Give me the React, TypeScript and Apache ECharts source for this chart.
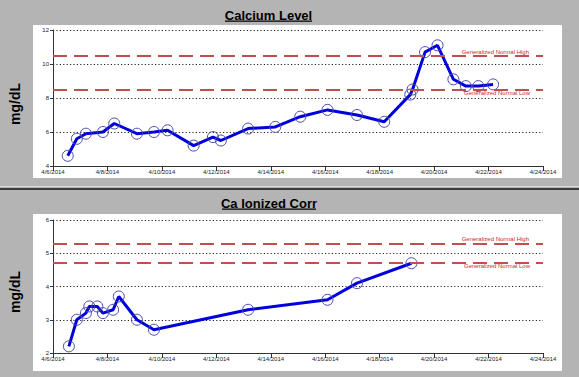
import React, { useEffect, useRef } from "react";
import * as echarts from "echarts";

const calciumTimes = [
  "2014-04-06T13:00", "2014-04-06T21:00", "2014-04-07T05:00", "2014-04-07T20:00",
  "2014-04-08T06:00", "2014-04-09T02:00", "2014-04-09T17:00", "2014-04-10T05:00",
  "2014-04-11T04:00", "2014-04-11T21:00", "2014-04-12T04:00", "2014-04-13T04:00",
  "2014-04-14T04:00", "2014-04-15T02:00", "2014-04-16T02:00", "2014-04-17T04:00",
  "2014-04-18T04:00", "2014-04-19T03:00", "2014-04-19T05:00", "2014-04-19T16:00",
  "2014-04-20T03:00", "2014-04-20T17:00", "2014-04-21T04:00", "2014-04-21T15:00",
  "2014-04-22T04:00",
];
const calciumValues = [
  4.6, 5.6, 5.9, 6.0, 6.5, 5.9, 6.0, 6.1, 5.2, 5.7, 5.5, 6.2, 6.3, 6.9, 7.3, 7.0,
  6.6, 8.2, 8.5, 10.7, 11.1, 9.1, 8.7, 8.7, 8.8,
];
const ionizedTimes = [
  "2014-04-06T14:00", "2014-04-06T21:00", "2014-04-07T05:00", "2014-04-07T08:00",
  "2014-04-07T15:00", "2014-04-07T20:00", "2014-04-08T05:00", "2014-04-08T10:00",
  "2014-04-09T02:00", "2014-04-09T17:00", "2014-04-13T04:00", "2014-04-16T02:00",
  "2014-04-17T04:00", "2014-04-19T04:00",
];
const ionizedValues = [2.2, 3.0, 3.2, 3.4, 3.4, 3.2, 3.3, 3.7, 3.0, 2.7, 3.3, 3.6, 4.1, 4.7];

const titles = ["Calcium Level", "Ca Ionized Corr"];
const unitLabel = "mg/dL";
const calciumNormal = { high: 10.5, low: 8.5 };
const ionizedNormal = { high: 5.3, low: 4.7 };
const highLabel = "Generalized Normal High";
const lowLabel = "Generalized Normal Low";
const xStart = "2014-04-06T00:00";
const xEnd = "2014-04-24T00:00";
const calciumAxis = { min: 4, max: 12, interval: 2 };
const ionizedAxis = { min: 2, max: 6, interval: 1 };

const DAY = 86400000;
function ts(s: string): number {
  const [d, t] = s.split("T");
  const [y, m, dd] = d.split("-").map(Number);
  const [h, mi] = t.split(":").map(Number);
  return Date.UTC(y, m - 1, dd, h, mi);
}
function fmtDate(v: number): string {
  const d = new Date(v);
  return `${d.getUTCMonth() + 1}/${d.getUTCDate()}/${d.getUTCFullYear()}`;
}

const FONT = "Arial, 'Liberation Sans', sans-serif";

export default function App() {
  const ref = useRef<HTMLDivElement>(null);
  useEffect(() => {
    if (!ref.current) return;
    const chart = echarts.init(ref.current, null, { renderer: "svg" });
    const mkX = (gi: number) => ({
      type: "value" as const,
      gridIndex: gi,
      min: ts(xStart),
      max: ts(xEnd),
      interval: 2 * DAY,
      splitLine: { show: false },
      axisLine: { lineStyle: { color: "#333", width: 1 } },
      axisTick: { show: true, length: 5, lineStyle: { color: "#333" } },
      axisLabel: {
        formatter: (v: number) => fmtDate(v),
        fontSize: 6,
        color: "#222",
        fontFamily: FONT,
        margin: 3,
        showMinLabel: true,
        showMaxLabel: true,
      },
    });
    const mkY = (gi: number, a: { min: number; max: number; interval: number }) => ({
      type: "value" as const,
      gridIndex: gi,
      min: a.min,
      max: a.max,
      interval: a.interval,
      axisLine: { show: true, lineStyle: { color: "#333", width: 1 } },
      axisTick: { show: true, length: 3, lineStyle: { color: "#333" } },
      axisLabel: { fontSize: 6, color: "#222", fontFamily: FONT, margin: 4 },
      splitLine: { show: true, lineStyle: { color: "#222", type: [1.2, 2.2], width: 1 } },
    });
    const mkMark = (n: { high: number; low: number }) => ({
      silent: true,
      symbol: "none",
      lineStyle: { color: "#c0504d", type: [14, 7], width: 2 },
      data: [
        {
          yAxis: n.high,
          label: {
            show: true,
            position: "insideEndTop",
            formatter: highLabel,
            fontSize: 6,
            color: "#cc2a2a",
            fontFamily: FONT,
            distance: [14, 1],
          },
        },
        {
          yAxis: n.low,
          label: {
            show: true,
            position: "insideEndBottom",
            formatter: lowLabel,
            fontSize: 6,
            color: "#cc2a2a",
            fontFamily: FONT,
            distance: [13, 0],
          },
        },
      ],
    });
    const mkSeries = (gi: number, times: string[], vals: number[], n: { high: number; low: number }) => ({
      type: "line" as const,
      xAxisIndex: gi,
      yAxisIndex: gi,
      data: times.map((t, i) => [ts(t), vals[i]]),
      symbol: "circle",
      symbolSize: 11,
      lineStyle: { color: "#0000dd", width: 3 },
      itemStyle: { color: "rgba(0,0,0,0)", borderColor: "#4a4aa8", borderWidth: 1 },
      markLine: mkMark(n),
      z: 3,
    });
    const graphicEls: any[] = [
      { type: "rect", shape: { x: 33, y: 25, width: 529, height: 153 }, style: { fill: "#fff" }, z: -10 },
      { type: "rect", shape: { x: 33, y: 214, width: 529, height: 157 }, style: { fill: "#fff" }, z: -10 },
      { type: "rect", shape: { x: 0, y: 186, width: 579, height: 1 }, style: { fill: "#dcdcdc" }, z: -10 },
      { type: "rect", shape: { x: 0, y: 188, width: 579, height: 2 }, style: { fill: "#3c3c3c" }, z: -10 },
      {
        type: "text", x: 268.5, y: 15,
        style: { text: titles[0], font: `bold 13px ${FONT}`, fill: "#000", align: "center", verticalAlign: "middle" },
      },
      { type: "rect", shape: { x: 225, y: 20.5, width: 87, height: 1.2 }, style: { fill: "#000" } },
      {
        type: "text", x: 269, y: 203,
        style: { text: titles[1], font: `bold 13px ${FONT}`, fill: "#000", align: "center", verticalAlign: "middle" },
      },
      { type: "rect", shape: { x: 222, y: 208.5, width: 94, height: 1.2 }, style: { fill: "#000" } },
      {
        type: "text", x: 15, y: 104, rotation: Math.PI / 2,
        style: { text: unitLabel, font: `bold 14px ${FONT}`, fill: "#000", align: "center", verticalAlign: "middle" },
      },
      {
        type: "text", x: 15, y: 292, rotation: Math.PI / 2,
        style: { text: unitLabel, font: `bold 14px ${FONT}`, fill: "#000", align: "center", verticalAlign: "middle" },
      },
    ];
    chart.setOption({
      animation: false,
      backgroundColor: "#b4b4b4",
      grid: [
        { left: 53, top: 30, width: 490, height: 136 },
        { left: 53, top: 220, width: 490, height: 133 },
      ],
      xAxis: [mkX(0), mkX(1)],
      yAxis: [mkY(0, calciumAxis), mkY(1, ionizedAxis)],
      series: [
        mkSeries(0, calciumTimes, calciumValues, calciumNormal),
        mkSeries(1, ionizedTimes, ionizedValues, ionizedNormal),
      ],
      graphic: graphicEls,
    });
    return () => chart.dispose();
  }, []);
  return (
    <div
      ref={ref}
      style={{ position: "fixed", left: 0, top: 0, width: 579, height: 377 }}
    />
  );
}
